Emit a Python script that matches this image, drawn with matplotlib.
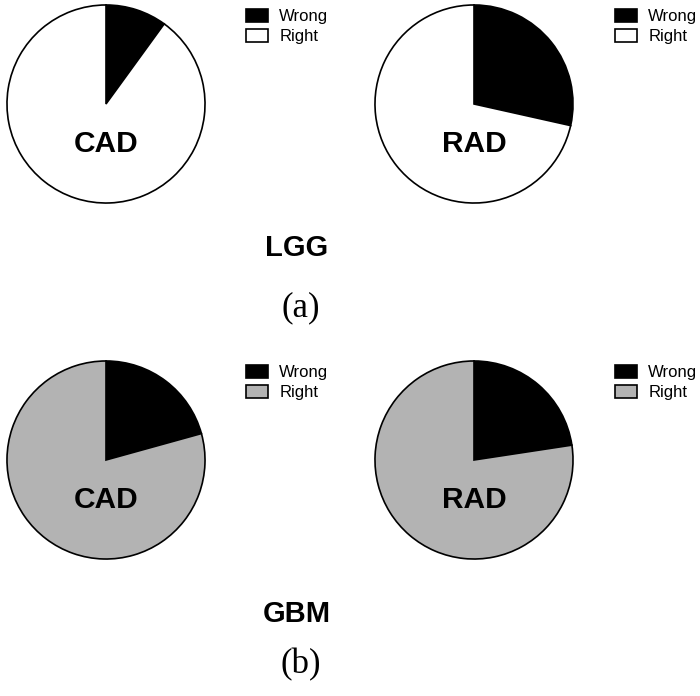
import matplotlib
matplotlib.use("Agg")
import matplotlib.pyplot as plt

W, H = 700, 696
fig = plt.figure(figsize=(W/100, H/100), dpi=100)

labels = ["Wrong", "Right"]
methods = ["CAD", "RAD", "CAD", "RAD"]
wrong_pct = [10, 28.5, 20.7, 22.6]
right_colors = ["white", "white", "#b3b3b3", "#b3b3b3"]
groups = ["LGG", "GBM"]
panel_tags = ["(a)", "(b)"]

centers = [(106, 104), (474, 104), (106, 460), (474, 460)]
R = 101
leg_x = [245, 614, 245, 614]

sans = "Liberation Sans"
serif = "Liberation Serif"

for i in range(4):
    cx, cy = centers[i]
    ax = fig.add_axes([(cx - R)/W, (H - cy - R)/H, 2*R/W, 2*R/H])
    vals = [wrong_pct[i], 100 - wrong_pct[i]]
    wedges, _ = ax.pie(vals, colors=["black", right_colors[i]], startangle=90,
                       counterclock=False, radius=1,
                       wedgeprops=dict(edgecolor="black", linewidth=1.2))
    ax.set_xlim(-1.02, 1.02)
    ax.set_ylim(-1.02, 1.02)
    ax.set_aspect("equal")
    ax.axis("off")
    ax.text(0, -0.4, methods[i], ha="center", va="center", fontsize=21.5,
            fontweight="bold", family=sans)
    leg = fig.legend(wedges, labels, loc="upper left",
                     bbox_to_anchor=((leg_x[i] + 1)/W, (H - cy + 104 - 9)/H),
                     frameon=False, prop=dict(family=sans, size=12),
                     handlelength=1.3, handleheight=0.8, handletextpad=0.7,
                     labelspacing=0.28, borderaxespad=0, borderpad=0)

for g, y in zip(groups, [248, 614]):
    fig.text(297/W, 1 - y/H, g, ha="center", va="center", fontsize=21,
             fontweight="bold", family=sans)
for t, y in zip(panel_tags, [308, 665]):
    fig.text(301/W, 1 - y/H, t, ha="center", va="center", fontsize=25,
             family=serif)

fig.savefig("out.png", dpi=100)
